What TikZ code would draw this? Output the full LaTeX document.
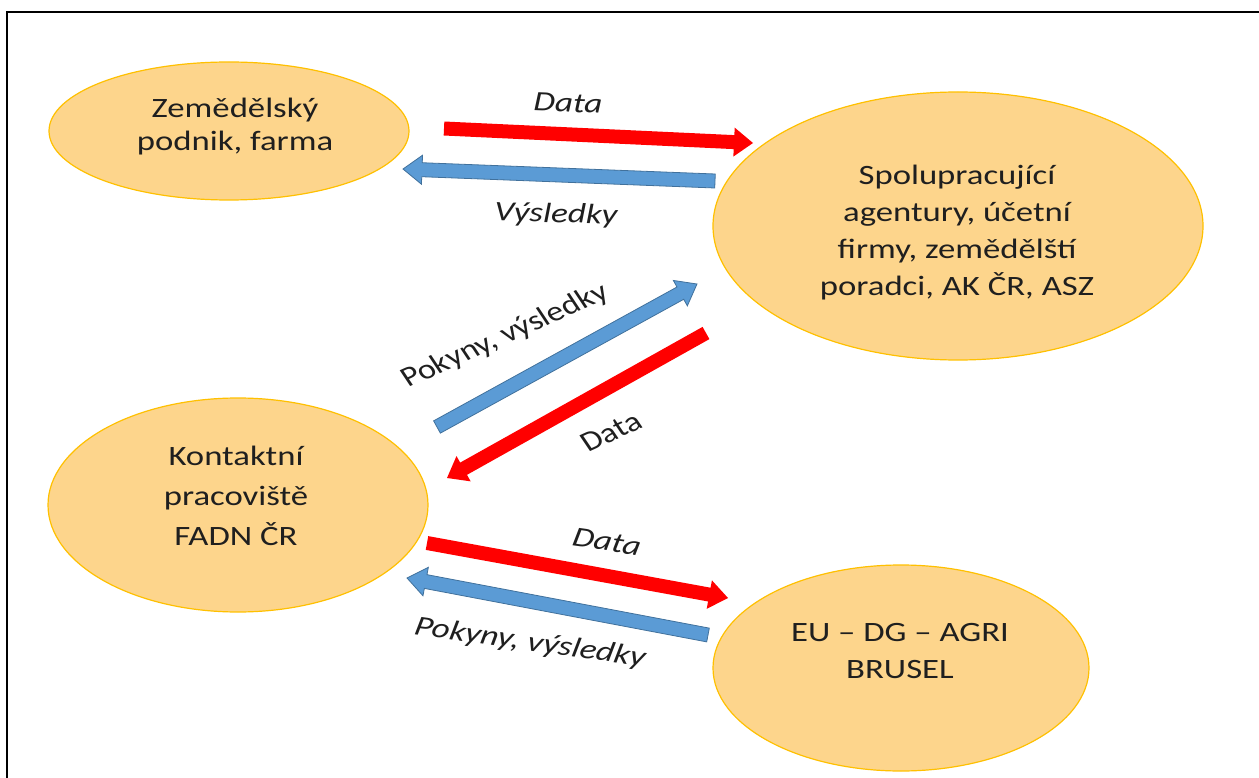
\documentclass[tikz,border=0pt]{standalone}
\usepackage{fontspec}
\setmainfont{Carlito}
\usetikzlibrary{calc,shapes.geometric}
\definecolor{blobfill}{RGB}{253,213,140}
\definecolor{blobedge}{RGB}{255,192,0}
\definecolor{arrred}{RGB}{255,0,0}
\definecolor{arrblue}{RGB}{91,155,213}
\definecolor{arrblueedge}{RGB}{65,113,156}
\newcommand{\blockarrow}[3]{%
  \coordinate (#2-#3-n) at ($(#3)!19pt!(#2)$);
  \path[#1] ($(#2)!7pt!90:(#3)$) -- ($(#2-#3-n)!7pt!90:(#3)$) -- ($(#2-#3-n)!14.5pt!90:(#3)$) -- (#3)
    -- ($(#2-#3-n)!14.5pt!-90:(#3)$) -- ($(#2-#3-n)!7pt!-90:(#3)$) -- ($(#2)!7pt!-90:(#3)$) -- cycle;
}
\tikzset{
  blob/.style={ellipse, fill=blobfill, draw=blobedge, line width=1.2pt, inner sep=0pt},
  blobtext/.style={font=\fontsize{28}{37}\selectfont, align=center, text=black!88, xscale=1.24},
  lbl/.style={font=\fontsize{28}{30}\selectfont\itshape, text=black!88, xscale=1.25},
  lblup/.style={font=\fontsize{28}{30}\selectfont, text=black!88, xscale=1.22},
  redarrow/.style={fill=arrred},
  bluearrow/.style={fill=arrblue, draw=arrblueedge, line width=0.8pt},
  frameline/.style={draw=black, line width=2pt}
}
\begin{document}
\begin{tikzpicture}[x=1pt,y=-1pt]
\useasboundingbox (0,0) rectangle (1259,778);
% frame
\coordinate (fr1) at (7,778);
\coordinate (fr2) at (7,12.5);
\coordinate (fr3) at (1259,12.5);
\draw[frameline] (fr1) -- (fr2) -- (fr3);
% ellipses
\node[blob, minimum width=360pt, minimum height=138pt] (farm) at (229,131) {};
\node[blob, minimum width=490pt, minimum height=268pt] (spol) at (958,226) {};
\node[blob, minimum width=380pt, minimum height=214pt] (kont) at (238,505) {};
\node[blob, minimum width=376pt, minimum height=206pt] (eu) at (901,668) {};
% texts
\node[blobtext, font=\fontsize{28}{33}\selectfont] (farmtext) at (235,127) {Zemědělský\\podnik, farma};
\node[blobtext] (spoltext) at (957,233) {Spolupracující\\agentury, účetní\\firmy, zemědělští\\poradci, AK ČR, ASZ};
\node[blobtext, font=\fontsize{28}{40}\selectfont] (konttext) at (236,496) {Kontaktní\\pracoviště\\FADN ČR};
\node[blobtext] (eutext) at (900,651) {EU – DG – AGRI\\BRUSEL};
% arrow end points
\coordinate (a1s) at (444,128.5); \coordinate (a1e) at (753,143);
\coordinate (a2s) at (715,181);   \coordinate (a2e) at (403,169);
\coordinate (a3s) at (437,427);   \coordinate (a3e) at (697,284);
\coordinate (a4s) at (706,333);   \coordinate (a4e) at (447,478);
\coordinate (a5s) at (427,543);   \coordinate (a5e) at (728,598);
\coordinate (a6s) at (708,635);   \coordinate (a6e) at (407,578);
\blockarrow{redarrow}{a1s}{a1e}
\blockarrow{bluearrow}{a2s}{a2e}
\blockarrow{bluearrow}{a3s}{a3e}
\blockarrow{redarrow}{a4s}{a4e}
\blockarrow{redarrow}{a5s}{a5e}
\blockarrow{bluearrow}{a6s}{a6e}
% labels
\node[lbl, rotate=-2.7] (l1) at (568,103) {Data};
\node[lbl, rotate=-2] (l2) at (556,215) {Výsledky};
\node[lblup, rotate=28.6] (l3) at (505,336) {Pokyny, výsledky};
\node[lblup, rotate=29] (l4) at (611,432) {Data};
\node[lbl, rotate=-10] (l5) at (607,542) {Data};
\node[lbl, rotate=-10] (l6) at (530,643) {Pokyny, výsledky};
\end{tikzpicture}
\end{document}
